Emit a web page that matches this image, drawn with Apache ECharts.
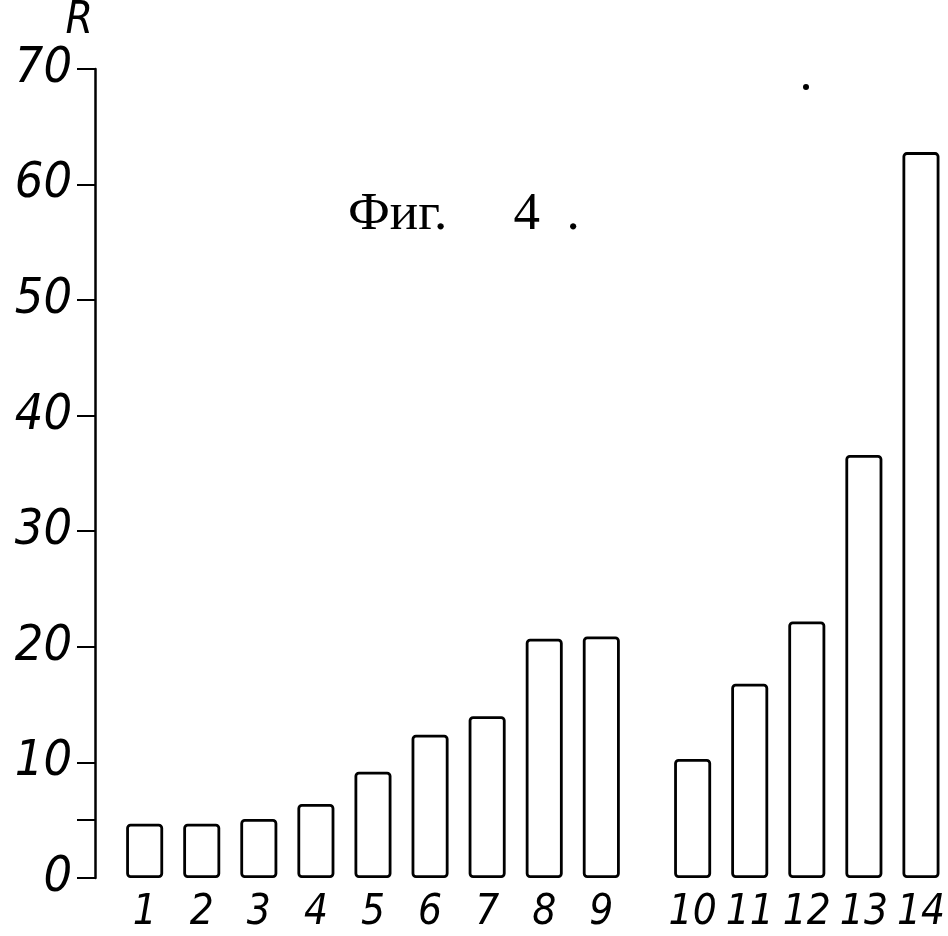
<!DOCTYPE html>
<html>
<head>
<meta charset="utf-8">
<script src="https://cdn.jsdelivr.net/npm/echarts@6/dist/echarts.min.js"></script>
<style>html,body{margin:0;padding:0;background:#fff}#c{width:948px;height:936px}</style>
</head>
<body>
<div id="c"></div>
<script>
// Data
const categories = ['1','2','3','4','5','6','7','8','9','10','11','12','13','14'];
const values = [4.7, 4.7, 5.1, 6.4, 9.2, 12.4, 14.0, 20.7, 20.9, 10.3, 16.8, 22.2, 36.6, 62.8];
const groupA = 9;          // bars in the first group
const groupGap = 0.6;      // extra gap (in bar units) between groups
const yTicks = [0, 5, 10, 20, 30, 40, 50, 60, 70];
const yLabels = [0, 10, 20, 30, 40, 50, 60, 70];

const xPos = categories.map((c, i) => i + 1 + (i >= groupA ? groupGap : 0));
const seriesData = values.map((v, i) => [xPos[i], v]);

const digitFont = "'Liberation Sans Narrow', 'DejaVu Sans Condensed', sans-serif";

const chart = echarts.init(document.getElementById('c'));
chart.setOption({
  backgroundColor: '#fff',
  animation: false,
  title: {
    text: 'Фиг.     4  .',
    left: 343, top: 184,
    textStyle: { fontFamily: "'Liberation Serif', serif", fontSize: 53, fontWeight: 'normal', color: '#000' }
  },
  graphic: [{ type: 'circle', shape: { cx: 806, cy: 87, r: 3 }, style: { fill: '#000' } }],
  grid: { left: 95, right: 0, top: 59, bottom: 58 },
  xAxis: {
    type: 'value', min: 0.13, max: 15,
    axisLine: { show: false }, axisTick: { show: false }, splitLine: { show: false },
    axisLabel: {
      customValues: xPos,
      margin: 14,
      formatter: function (v) {
        for (let i = 0; i < xPos.length; i++) if (Math.abs(xPos[i] - v) < 1e-6) return categories[i];
        return '';
      },
      fontFamily: digitFont, fontStyle: 'italic', fontSize: 42, color: '#000'
    }
  },
  yAxis: {
    type: 'value', min: 0, max: 70, interval: 10,
    name: 'R', nameLocation: 'end', nameGap: 0,
    nameTextStyle: { fontFamily: digitFont, fontStyle: 'italic', fontSize: 44, color: '#000', align: 'right', padding: [0, 2, 0, 0] },
    axisLine: { show: true, lineStyle: { color: '#000', width: 2.5 } },
    axisTick: { show: true, inside: false, length: 18, customValues: yTicks, lineStyle: { color: '#000', width: 2 } },
    axisLabel: { customValues: yLabels, margin: 23, fontFamily: digitFont, fontStyle: 'italic', fontSize: 50, color: '#000' },
    splitLine: { show: false }
  },
  series: [{
    type: 'bar',
    data: seriesData,
    barWidth: 37,
    itemStyle: { color: '#fff', borderColor: '#000', borderWidth: 2.8, borderRadius: 3 }
  }]
});
</script>
</body>
</html>
